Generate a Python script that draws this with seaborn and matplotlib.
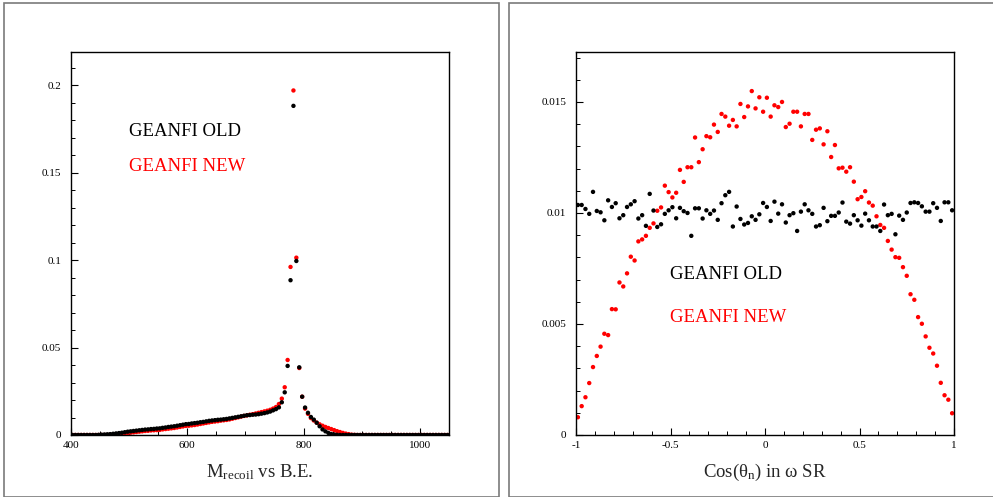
import numpy as np
import pandas as pd
import matplotlib
matplotlib.use("Agg")
import matplotlib.pyplot as plt
import seaborn as sns
from matplotlib.ticker import MultipleLocator, FuncFormatter
from matplotlib.patches import Rectangle

# ---------------- data ----------------
mass_centers = np.arange(402.5, 1050, 5.0)   # 130 bins of 5 MeV

mass_old = ([0.0] * 9 +
            [0.0001, 0.0002, 0.0003, 0.0004, 0.0005, 0.0007, 0.0009, 0.0011, 0.0013, 0.0016,
             0.0019, 0.0021, 0.0023, 0.0025, 0.0027, 0.0029, 0.0031, 0.0032, 0.0034, 0.0035,
             0.0037, 0.0038, 0.0041, 0.0043, 0.0046, 0.0048, 0.0050, 0.0053, 0.0056, 0.0059,
             0.0062, 0.0063, 0.0066, 0.0068, 0.0070, 0.0073, 0.0075, 0.0078, 0.0081, 0.0083,
             0.0085, 0.0087, 0.0088, 0.0090, 0.0092, 0.0095, 0.0098, 0.0101, 0.0104, 0.0107,
             0.0110, 0.0113, 0.0114, 0.0116, 0.0117, 0.0119, 0.0122, 0.0125, 0.0129, 0.0134,
             0.0141, 0.0148, 0.0158, 0.0187, 0.0244, 0.0395, 0.0885, 0.1882, 0.0995, 0.0387,
             0.0219, 0.0157, 0.0127, 0.0103, 0.0088, 0.0070, 0.0050, 0.0032, 0.0021, 0.0012,
             0.0006, 0.0003, 0.0001] +
            [0.0] * 38)

mass_new = ([0.0] * 13 +
            [0.0001, 0.0002, 0.0004, 0.0005, 0.0007, 0.0009, 0.0011, 0.0013, 0.0015, 0.0017,
             0.0019, 0.0021, 0.0023, 0.0024, 0.0026, 0.0027, 0.0028, 0.0029, 0.0032, 0.0034,
             0.0036, 0.0038, 0.0040, 0.0043, 0.0046, 0.0049, 0.0052, 0.0053, 0.0055, 0.0057,
             0.0060, 0.0063, 0.0066, 0.0069, 0.0072, 0.0075, 0.0077, 0.0079, 0.0082, 0.0084,
             0.0086, 0.0089, 0.0093, 0.0097, 0.0101, 0.0105, 0.0109, 0.0112, 0.0116, 0.0119,
             0.0123, 0.0127, 0.0131, 0.0135, 0.0139, 0.0144, 0.0151, 0.0160, 0.0177, 0.0208,
             0.0273, 0.0429, 0.0961, 0.1970, 0.1014, 0.0383, 0.0219, 0.0151, 0.0121, 0.0097,
             0.0083, 0.0071, 0.0061, 0.0053, 0.0046, 0.0040, 0.0034, 0.0028, 0.0022, 0.0017,
             0.0012, 0.0008, 0.0005, 0.0002, 0.0001] +
            [0.0] * 32)

cos_centers = np.arange(-0.99, 1.0, 0.02)    # 100 bins

cos_new = [0.00080, 0.00130, 0.00170, 0.00234, 0.00306, 0.00356, 0.00398, 0.00456, 0.00450, 0.00567,
           0.00566, 0.00687, 0.00669, 0.00728, 0.00803, 0.00786, 0.00872, 0.00881, 0.00897, 0.00933,
           0.00953, 0.01010, 0.01025, 0.01123, 0.01094, 0.01070, 0.01091, 0.01194, 0.01140, 0.01206,
           0.01206, 0.01340, 0.01229, 0.01287, 0.01346, 0.01341, 0.01398, 0.01365, 0.01446, 0.01434,
           0.01393, 0.01419, 0.01390, 0.01491, 0.01432, 0.01480, 0.01549, 0.01471, 0.01521, 0.01456,
           0.01519, 0.01434, 0.01485, 0.01477, 0.01500, 0.01387, 0.01402, 0.01456, 0.01456, 0.01390,
           0.01446, 0.01446, 0.01329, 0.01375, 0.01381, 0.01309, 0.01368, 0.01252, 0.01306, 0.01201,
           0.01204, 0.01186, 0.01206, 0.01141, 0.01062, 0.01072, 0.01098, 0.01047, 0.01033, 0.00985,
           0.00946, 0.00933, 0.00874, 0.00835, 0.00801, 0.00798, 0.00756, 0.00717, 0.00634, 0.00609,
           0.00531, 0.00501, 0.00444, 0.00393, 0.00367, 0.00312, 0.00235, 0.00179, 0.00159, 0.00098]

cos_old = [0.01036, 0.01036, 0.01018, 0.00996, 0.01095, 0.01009, 0.01003, 0.00967, 0.01057, 0.01027,
           0.01044, 0.00976, 0.00990, 0.01027, 0.01039, 0.01053, 0.00975, 0.00990, 0.00942, 0.01086,
           0.01011, 0.00937, 0.00949, 0.00996, 0.01012, 0.01026, 0.00976, 0.01023, 0.01008, 0.01000,
           0.00897, 0.01021, 0.01021, 0.00975, 0.01012, 0.00996, 0.01011, 0.00969, 0.01044, 0.01080,
           0.01095, 0.00939, 0.01029, 0.00973, 0.00948, 0.00955, 0.00985, 0.00969, 0.00994, 0.01045,
           0.01027, 0.00964, 0.01051, 0.00997, 0.01039, 0.00957, 0.00990, 0.00999, 0.00919, 0.01006,
           0.01039, 0.01012, 0.00996, 0.00939, 0.00945, 0.01023, 0.00963, 0.00987, 0.00987, 0.01002,
           0.01047, 0.00961, 0.00952, 0.00990, 0.00967, 0.00943, 0.00997, 0.00967, 0.00939, 0.00939,
           0.00919, 0.01038, 0.00990, 0.00996, 0.00904, 0.00988, 0.00969, 0.01002, 0.01045, 0.01048,
           0.01045, 0.01030, 0.01006, 0.01006, 0.01044, 0.01023, 0.00964, 0.01048, 0.01048, 0.01012]

series_names = ["GEANFI NEW", "GEANFI OLD"]
series_colors = {"GEANFI NEW": "#ff0000", "GEANFI OLD": "#000000"}

# ---------------- style ----------------
sns.set_style("ticks")
plt.rcParams["font.family"] = ["Liberation Serif", "DejaVu Serif"]
plt.rcParams["mathtext.fontset"] = "custom"
plt.rcParams["mathtext.rm"] = "Liberation Serif"
plt.rcParams["mathtext.it"] = "Liberation Serif:italic"
plt.rcParams["axes.unicode_minus"] = False

fig = plt.figure(figsize=(9.93, 4.97), dpi=100)
fig.patch.set_facecolor("white")

W, H = 993.0, 497.0
def ax_rect(x0, y0, x1, y1):
    return [x0 / W, 1 - y1 / H, (x1 - x0) / W, (y1 - y0) / H]

# panel frames
fig.patches.append(Rectangle((4 / W, 0.5 / H), (499 - 4) / W, 493.5 / H, transform=fig.transFigure,
                             fill=False, edgecolor="#7a7a7a", linewidth=1.2))
fig.patches.append(Rectangle((509 / W, 0.5 / H), (1000 - 509) / W, 493.5 / H, transform=fig.transFigure,
                             fill=False, edgecolor="#7a7a7a", linewidth=1.2))

ax1 = fig.add_axes(ax_rect(71, 52, 449, 435))
ax2 = fig.add_axes(ax_rect(576, 52, 954, 435))

df_mass = pd.concat([
    pd.DataFrame({"x": mass_centers, "y": mass_new, "series": series_names[0]}),
    pd.DataFrame({"x": mass_centers, "y": mass_old, "series": series_names[1]}),
], ignore_index=True)
df_cos = pd.concat([
    pd.DataFrame({"x": cos_centers, "y": cos_new, "series": series_names[0]}),
    pd.DataFrame({"x": cos_centers, "y": cos_old, "series": series_names[1]}),
], ignore_index=True)

for ax, df in ((ax1, df_mass), (ax2, df_cos)):
    sns.scatterplot(data=df, x="x", y="y", hue="series", palette=series_colors,
                    hue_order=series_names, s=10, linewidth=0, ax=ax, legend=False)

fmt = FuncFormatter(lambda v, p: "%g" % v)

ax1.set_xlim(400, 1050)
ax1.set_ylim(0, 0.219)
ax1.xaxis.set_major_locator(MultipleLocator(200))
ax1.xaxis.set_minor_locator(MultipleLocator(50))
ax1.yaxis.set_major_locator(MultipleLocator(0.05))
ax1.yaxis.set_minor_locator(MultipleLocator(0.01))

ax2.set_xlim(-1, 1)
ax2.set_ylim(0, 0.01725)
ax2.xaxis.set_major_locator(MultipleLocator(0.5))
ax2.xaxis.set_minor_locator(MultipleLocator(0.1))
ax2.yaxis.set_major_locator(MultipleLocator(0.005))
ax2.yaxis.set_minor_locator(MultipleLocator(0.001))

for ax in (ax1, ax2):
    ax.xaxis.set_major_formatter(fmt)
    ax.yaxis.set_major_formatter(fmt)
    ax.tick_params(which="both", direction="in", top=False, right=False, colors="black")
    ax.tick_params(axis="y", which="major", length=5, width=0.8, pad=7, labelsize=8)
    ax.tick_params(axis="y", which="minor", length=2.6, width=0.7)
    ax.tick_params(axis="x", which="major", length=5, width=0.8, pad=4, labelsize=8)
    ax.tick_params(axis="x", which="minor", length=2.6, width=0.7)
    for sp in ax.spines.values():
        sp.set_visible(True)
        sp.set_linewidth(1.0)
        sp.set_color("black")
    ax.set_ylabel("")

ax1.set_xlabel(r"M$_{\mathrm{recoil}}$ vs B.E.", fontsize=13.5, labelpad=9)
ax2.set_xlabel(r"Cos(θ$_{\mathrm{n}}$) in ω SR", fontsize=13.5, labelpad=9)

ax1.text(500, 0.1733, "GEANFI OLD", color="black", fontsize=13.5, va="center", ha="left")
ax1.text(500, 0.1533, "GEANFI NEW", color="#ff0000", fontsize=13.5, va="center", ha="left")
ax2.text(-0.5, 0.00725, "GEANFI OLD", color="black", fontsize=13.5, va="center", ha="left")
ax2.text(-0.5, 0.00528, "GEANFI NEW", color="#ff0000", fontsize=13.5, va="center", ha="left")

fig.savefig("out.png", dpi=100)
